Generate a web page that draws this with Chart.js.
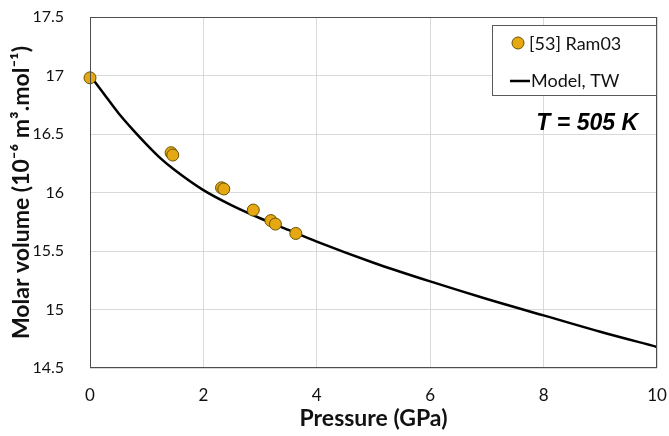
<!DOCTYPE html>
<html>
<head>
<meta charset="utf-8">
<script src="https://cdn.jsdelivr.net/npm/chart.js@4"></script>
<style>
  html, body { margin: 0; padding: 0; background: #fff; }
  #wrap { width: 669px; height: 436px; }
</style>
</head>
<body>
<div id="wrap"><canvas id="chart" width="669" height="436"></canvas></div>
<script>
// experimental points, [53] Ram03
var expPressure = [0, 1.43, 1.46, 2.32, 2.36, 2.88, 3.19, 3.27, 3.63];
var expVolume = [16.98, 16.34, 16.32, 16.04, 16.03, 15.85, 15.76, 15.73, 15.65];

// model curve
var modelPressure = [0, 0.25, 0.5, 0.75, 1, 1.25, 1.5, 2, 2.5, 3, 3.5, 4, 5, 6, 7, 8, 9, 10];
var modelVolume = [17.0, 16.84, 16.68, 16.54, 16.41, 16.29, 16.19, 16.02, 15.89, 15.78, 15.68, 15.58, 15.40, 15.24, 15.09, 14.95, 14.81, 14.68];

var seriesNames = ["[53] Ram03", "Model, TW"];
var xTicks = [0, 2, 4, 6, 8, 10];
var yTicks = [14.5, 15, 15.5, 16, 16.5, 17, 17.5];
var tempLabel = "T = 505 K";

var fontFamily = "Lato, 'DejaVu Sans', sans-serif";
var markerFill = "#e6a812";
var markerEdge = "#6b5200";

function toPoints(xs, ys) {
  return xs.map(function (x, i) { return { x: x, y: ys[i] }; });
}

// frame round the plot, legend box and temperature note
var decorations = {
  id: "decorations",
  afterDraw: function (chart) {
    var ctx = chart.ctx;
    var a = chart.chartArea;
    ctx.save();
    ctx.strokeStyle = "#4d4d4d";
    ctx.lineWidth = 1;
    ctx.strokeRect(a.left + 0.5, a.top + 0.5, a.right - a.left - 1, a.bottom - a.top - 1);

    // legend box
    var bx = 492, by = 25, bw = 164, bh = 70;
    ctx.fillStyle = "#fff";
    ctx.fillRect(bx, by, bw, bh);
    ctx.strokeStyle = "#595959";
    ctx.strokeRect(bx + 0.5, by + 0.5, bw, bh);

    ctx.beginPath();
    ctx.arc(518, 43, 6, 0, Math.PI * 2);
    ctx.fillStyle = markerFill;
    ctx.fill();
    ctx.strokeStyle = markerEdge;
    ctx.lineWidth = 1;
    ctx.stroke();

    ctx.beginPath();
    ctx.moveTo(510, 81);
    ctx.lineTo(530, 81);
    ctx.strokeStyle = "#000";
    ctx.lineWidth = 2.5;
    ctx.stroke();

    ctx.fillStyle = "#111";
    ctx.font = "18px " + fontFamily;
    ctx.textBaseline = "middle";
    ctx.textAlign = "left";
    ctx.fillText(seriesNames[0], 529, 44);
    ctx.fillText(seriesNames[1], 531, 81);

    ctx.font = "italic bold 23px 'Liberation Sans', Arial, sans-serif";
    ctx.textAlign = "right";
    ctx.fillStyle = "#000";
    ctx.fillText(tempLabel, 638, 124);
    ctx.restore();
  }
};

var ctx = document.getElementById("chart").getContext("2d");
new Chart(ctx, {
  type: "scatter",
  data: {
    datasets: [
      {
        label: seriesNames[0],
        data: toPoints(expPressure, expVolume),
        pointRadius: 6,
        pointBackgroundColor: markerFill,
        pointBorderColor: markerEdge,
        pointBorderWidth: 1,
        showLine: false,
        clip: false,
        order: 0
      },
      {
        label: seriesNames[1],
        data: toPoints(modelPressure, modelVolume),
        showLine: true,
        borderColor: "#000",
        borderWidth: 2.5,
        pointRadius: 0,
        cubicInterpolationMode: "monotone",
        order: 1
      }
    ]
  },
  options: {
    responsive: false,
    animation: false,
    layout: { padding: { left: 0, right: 12, top: 17, bottom: 0 } },
    plugins: {
      legend: { display: false },
      tooltip: { enabled: false }
    },
    scales: {
      x: {
        type: "linear",
        min: 0,
        max: 10,
        afterFit: function (s) {
          s.height = 68;
          s.paddingLeft = 0;
          s.paddingRight = 0;
        },
        afterBuildTicks: function (s) { s.ticks = xTicks.map(function (v) { return { value: v }; }); },
        grid: { color: "#d9d9d9", drawTicks: false },
        border: { display: false },
        ticks: { padding: 17, color: "#111", font: { family: fontFamily, size: 17 } },
        title: {
          display: true,
          text: "Pressure (GPa)",
          color: "#111",
          font: { family: fontFamily, size: 23, weight: "bold" },
          padding: { top: 0, bottom: 4 }
        }
      },
      y: {
        type: "linear",
        min: 14.5,
        max: 17.5,
        afterFit: function (s) {
          s.width = 90;
          s.paddingTop = 0;
          s.paddingBottom = 0;
        },
        afterBuildTicks: function (s) { s.ticks = yTicks.map(function (v) { return { value: v }; }); },
        grid: { color: "#d9d9d9", drawTicks: false },
        border: { display: false },
        ticks: {
          padding: 26,
          color: "#111",
          font: { family: fontFamily, size: 16 },
          callback: function (v) { return String(v); }
        },
        title: {
          display: true,
          text: "Molar volume (10\u207B\u2076 m\u00B3.mol\u207B\u00B9)",
          color: "#111",
          font: { family: fontFamily, size: 23, weight: "bold" },
          padding: { top: 8, bottom: 0 }
        }
      }
    }
  },
  plugins: [decorations]
});
</script>
</body>
</html>
